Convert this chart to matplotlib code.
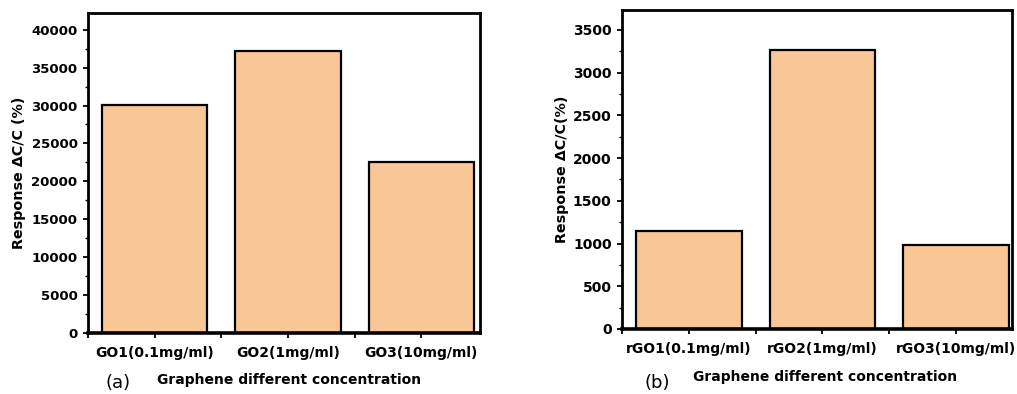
import numpy as np
import matplotlib
matplotlib.use("Agg")
import matplotlib.pyplot as plt
from matplotlib.ticker import MultipleLocator, FixedLocator

# data
go_labels = ["GO1(0.1mg/ml)", "GO2(1mg/ml)", "GO3(10mg/ml)"]
go_values = [30100, 37200, 22500]
rgo_labels = ["rGO1(0.1mg/ml)", "rGO2(1mg/ml)", "rGO3(10mg/ml)"]
rgo_values = [1150, 3270, 985]

bar_color = "#f9c796"
plt.rcParams["font.family"] = "DejaVu Sans"

fig = plt.figure(figsize=(10.17, 3.94), dpi=100)
ax1 = fig.add_axes([0.0865, 0.1548, 0.3855, 0.8122])
ax2 = fig.add_axes([0.6116, 0.165, 0.3834, 0.81])


def style_panel(ax, labels, values, ymax, major, minor, xright, ytick_fs, ylab):
    x = np.arange(len(labels))
    ax.bar(x, values, width=0.79, color=bar_color, edgecolor="black", linewidth=1.6, zorder=2)
    ax.set_xlim(-0.5, xright)
    ax.set_ylim(0, ymax)
    ax.set_xticks(x)
    ax.set_xticklabels(labels, fontsize=10, fontweight="bold")
    ax.xaxis.set_minor_locator(FixedLocator([-0.5, 0.5, 1.5]))
    ax.yaxis.set_major_locator(MultipleLocator(major))
    ax.yaxis.set_minor_locator(MultipleLocator(minor))
    for lab in ax.get_yticklabels():
        lab.set_fontweight("bold")
        lab.set_fontsize(ytick_fs)
    ax.tick_params(axis="both", which="major", length=3.5, width=1.3, direction="out", pad=4)
    ax.tick_params(axis="y", which="minor", length=2, width=1.0)
    ax.tick_params(axis="x", which="minor", length=3.5, width=1.3)
    ax.tick_params(axis="x", which="major", pad=6)
    for s in ax.spines.values():
        s.set_linewidth(2.0)
    ax.spines["bottom"].set_linewidth(2.6)
    ax.set_ylabel(ylab, fontsize=10.3, fontweight="bold")
    ax.set_xlabel("Graphene different concentration", fontsize=10, fontweight="bold")
    ax.xaxis.label.set_va("center")
    ax.yaxis.label.set_va("center")


style_panel(ax1, go_labels, go_values, 42200, 5000, 2500, 2.44, 9.5, "Response ΔC/C (%)")
style_panel(ax2, rgo_labels, rgo_values, 3735, 500, 250, 2.42, 10, "Response ΔC/C(%)")

ax1.xaxis.set_label_coords(0.514, -0.147)
ax1.yaxis.set_label_coords(-0.175, 0.5)
ax2.xaxis.set_label_coords(0.52, -0.152)
ax2.yaxis.set_label_coords(-0.154, 0.5)

fig.text(118 / 1017, 1 - 383 / 394, "(a)", fontsize=13, ha="center", va="center")
fig.text(657 / 1017, 1 - 383 / 394, "(b)", fontsize=13, ha="center", va="center")

fig.savefig("out.png", dpi=100)
